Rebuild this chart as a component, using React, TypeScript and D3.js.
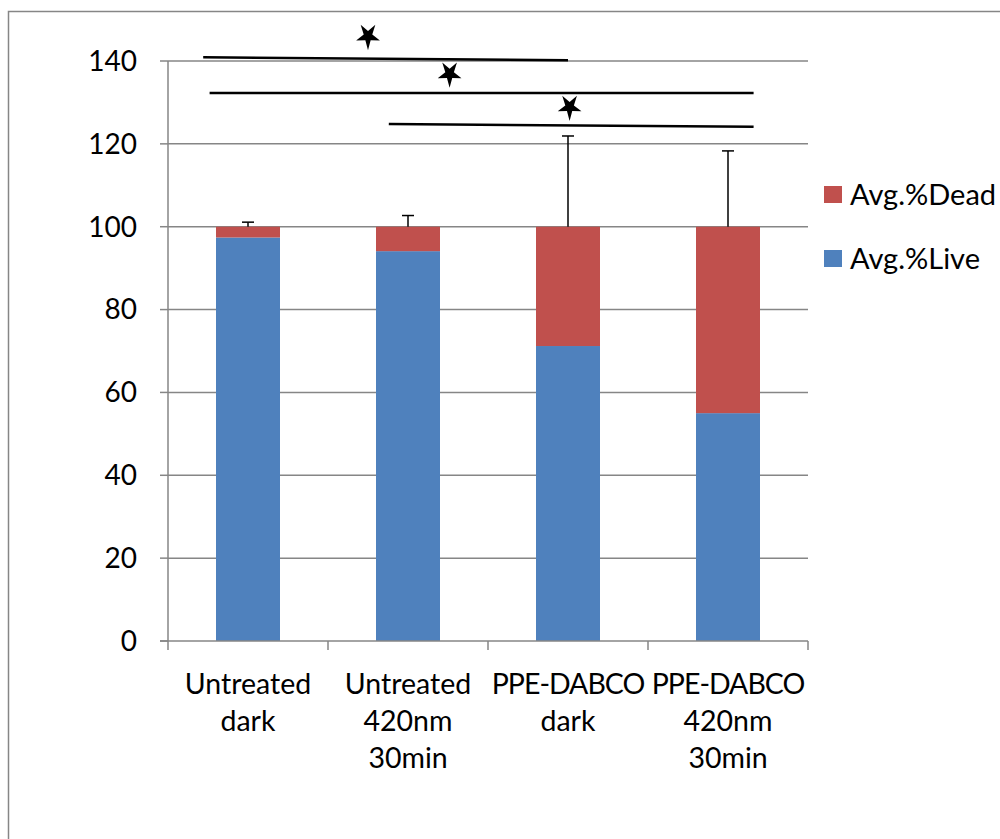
import React from "react";
import * as d3 from "d3";

const categories = ["Untreated dark", "Untreated 420nm 30min", "PPE-DABCO dark", "PPE-DABCO 420nm 30min"];
const categoryLines = [["Untreated", "dark"], ["Untreated", "420nm", "30min"], ["PPE-DABCO", "dark"], ["PPE-DABCO", "420nm", "30min"]];
const liveValues = [97.4, 94.1, 71.2, 55.0];
const deadValues = [2.6, 5.9, 28.8, 45.0];
const errorPlus = [1.1, 2.7, 21.9, 18.3];
const yTicks = [0, 20, 40, 60, 80, 100, 120, 140];
// significance brackets: x in category-index units, y in data units
const sigFrom = [-0.28, -0.24, 0.88];
const sigTo = [2.0, 3.16, 3.16];
const sigYStart = [140.9, 132.3, 124.8];
const sigYEnd = [140.2, 132.3, 124.1];
const starX = [0.75, 1.26, 2.01];
const starY = [146.0, 136.9, 128.9];

const BLUE = "#4F81BD";
const RED = "#C0504D";
const GRID = "#868686";
const FONT = "Lato, 'Open Sans', sans-serif";

function starPath(cx: number, cy: number, R: number, r: number, sy: number) {
  const pts: [number, number][] = [];
  for (let i = 0; i < 10; i++) {
    const a = Math.PI / 2 + (i * Math.PI) / 5;
    const rad = i % 2 === 0 ? R : r;
    pts.push([cx + rad * Math.cos(a), cy + sy * rad * Math.sin(a)]);
  }
  return d3.line()(pts) + "Z";
}

export default function App() {
  const y = d3.scaleLinear().domain([0, 140]).range([641, 61]);
  const x = d3.scaleBand<string>().domain(categories).range([168, 808]).padding(0);
  const bw = x.bandwidth();
  const barW = bw * 0.4;
  const cx = (i: number) => (x(categories[0]) as number) + bw * (i + 0.5);

  return (
    <svg width={1000} height={839} style={{ position: "absolute", left: 0, top: 0, background: "#fff" }} fontFamily={FONT}>
      <rect x={8.5} y={11.5} width={1100} height={1000} fill="none" stroke={GRID} strokeWidth={1.5} />
      {yTicks.slice(1).map((t) => (
        <line key={t} x1={168} x2={808} y1={y(t)} y2={y(t)} stroke={GRID} strokeWidth={1.5} />
      ))}
      {categories.map((c, i) => {
        const x0 = (x(c) as number) + (bw - barW) / 2;
        return (
          <g key={c}>
            <rect x={x0} y={y(liveValues[i])} width={barW} height={y(0) - y(liveValues[i])} fill={BLUE} />
            <rect x={x0} y={y(liveValues[i] + deadValues[i])} width={barW} height={y(liveValues[i]) - y(liveValues[i] + deadValues[i])} fill={RED} />
          </g>
        );
      })}
      {categories.map((c, i) => {
        const top = liveValues[i] + deadValues[i];
        const xc = cx(i);
        return (
          <g key={"e" + c} stroke="#000" strokeWidth={1.5}>
            <line x1={xc} x2={xc} y1={y(top)} y2={y(top + errorPlus[i])} />
            <line x1={xc - 6} x2={xc + 6} y1={y(top + errorPlus[i])} y2={y(top + errorPlus[i])} />
          </g>
        );
      })}
      <line x1={168} x2={168} y1={y(140)} y2={y(0)} stroke={GRID} strokeWidth={1.5} />
      <line x1={160} x2={808} y1={y(0)} y2={y(0)} stroke={GRID} strokeWidth={1.5} />
      {yTicks.map((t) => (
        <g key={"yt" + t}>
          <line x1={160} x2={168} y1={y(t)} y2={y(t)} stroke={GRID} strokeWidth={1.5} />
          <text x={137} y={y(t)} dy="0.35em" textAnchor="end" fontSize={28} fill="#000">{t}</text>
        </g>
      ))}
      {d3.range(categories.length + 1).map((k) => (
        <line key={"xt" + k} x1={168 + bw * k} x2={168 + bw * k} y1={y(0)} y2={y(0) + 9} stroke={GRID} strokeWidth={1.5} />
      ))}
      {categoryLines.map((lines, i) => (
        <text key={"cl" + i} x={cx(i)} textAnchor="middle" fontSize={28.5} fill="#000">
          {lines.map((l, j) => (
            <tspan key={j} x={cx(i)} y={694 + j * 37} letterSpacing={/[A-Z]{3}/.test(l) ? -1 : 0}>{l}</tspan>
          ))}
        </text>
      ))}
      {sigFrom.map((f, k) => (
        <g key={"s" + k}>
          <line x1={cx(f)} x2={cx(sigTo[k])} y1={y(sigYStart[k])} y2={y(sigYEnd[k])} stroke="#000" strokeWidth={2.5} />
          <path d={starPath(cx(starX[k]), y(starY[k]), 12.5, 4.5, 1.12)} fill="#000" />
        </g>
      ))}
      <rect x={824} y={186} width={18} height={17} fill={RED} />
      <text x={850} y={194.5} dy="0.35em" fontSize={29} fill="#000">Avg.%Dead</text>
      <rect x={824} y={250} width={18} height={17} fill={BLUE} />
      <text x={850} y={258.5} dy="0.35em" fontSize={29} fill="#000">Avg.%Live</text>
    </svg>
  );
}
